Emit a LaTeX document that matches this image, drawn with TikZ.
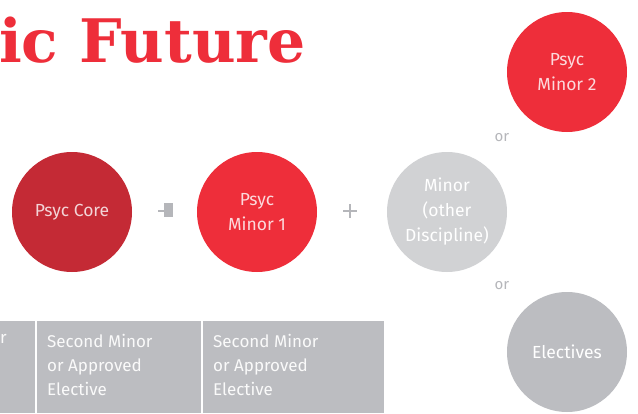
\documentclass[tikz,border=0pt]{standalone}
\usepackage{fontspec}
\setmainfont{Fira Sans}
\newfontfamily\titlefont{DejaVu Serif}
\definecolor{corered}{HTML}{C42A35}
\definecolor{psycred}{HTML}{EE2E3A}
\definecolor{lightgrey}{HTML}{D1D2D4}
\definecolor{midgrey}{HTML}{BCBDC1}
\definecolor{textgrey}{HTML}{B5B6BA}
\tikzset{
	course/.style={circle, minimum size=120pt, inner sep=0pt, align=center, font=\fontsize{17.5}{25}\selectfont},
	cell/.style={anchor=north west, align=left, inner sep=0pt, text=white!92!midgrey, font=\fontsize{17}{24}\selectfont},
	sign/.style={draw=textgrey, line width=1.3pt}
}
\begin{document}
\begin{tikzpicture}[x=1pt, y=-1pt]
	\useasboundingbox (0,0) rectangle (638,413);
	\clip (0,0) rectangle (638,413);
	% title
	\node[anchor=base west, inner sep=0pt, text=psycred, font=\titlefont\bfseries\fontsize{60}{60}\selectfont] (title) at (-1,62) {ic Future};
	% circles
	\node[course, fill=corered, text=white!80!corered] (core) at (72,212) {Psyc Core};
	\node[course, fill=psycred, text=white!82!psycred] (minorA) at (257,212) {Psyc\\Minor 1};
	\node[course, fill=lightgrey, text=white] (minorO) at (447,212) {Minor\\(other\\Discipline)};
	\node[course, fill=psycred, text=white!82!psycred] (minorB) at (567,72) {Psyc\\Minor 2};
	\node[course, fill=midgrey, text=white] (elect) at (567,352) {Electives};
	% signs
	\coordinate (plusA) at (165,211);
	\draw[sign] ([xshift=-7pt]plusA) -- ([xshift=7pt]plusA);
	\fill[textgrey] (164,203) rectangle (173,217);
	\coordinate (plusB) at (350,211);
	\draw[sign] ([xshift=-7pt]plusB) -- ([xshift=7pt]plusB);
	\draw[sign] ([yshift=-7pt]plusB) -- ([yshift=7pt]plusB);
	\node[text=textgrey, font=\fontsize{15}{15}\selectfont] (orA) at (502,138) {or};
	\node[text=textgrey, font=\fontsize{15}{15}\selectfont] (orB) at (502,286) {or};
	% table
	\fill[midgrey] (0,321) rectangle (384,413);
	\draw[white, line width=1.5pt] (36,321) -- (36,413);
	\draw[white, line width=1.5pt] (202,321) -- (202,413);
	\node[cell] (cellA) at (0,334) {r};
	\node[cell] (cellB) at (47,334) {Second Minor\\or Approved\\Elective};
	\node[cell] (cellC) at (213,334) {Second Minor\\or Approved\\Elective};
\end{tikzpicture}
\end{document}
